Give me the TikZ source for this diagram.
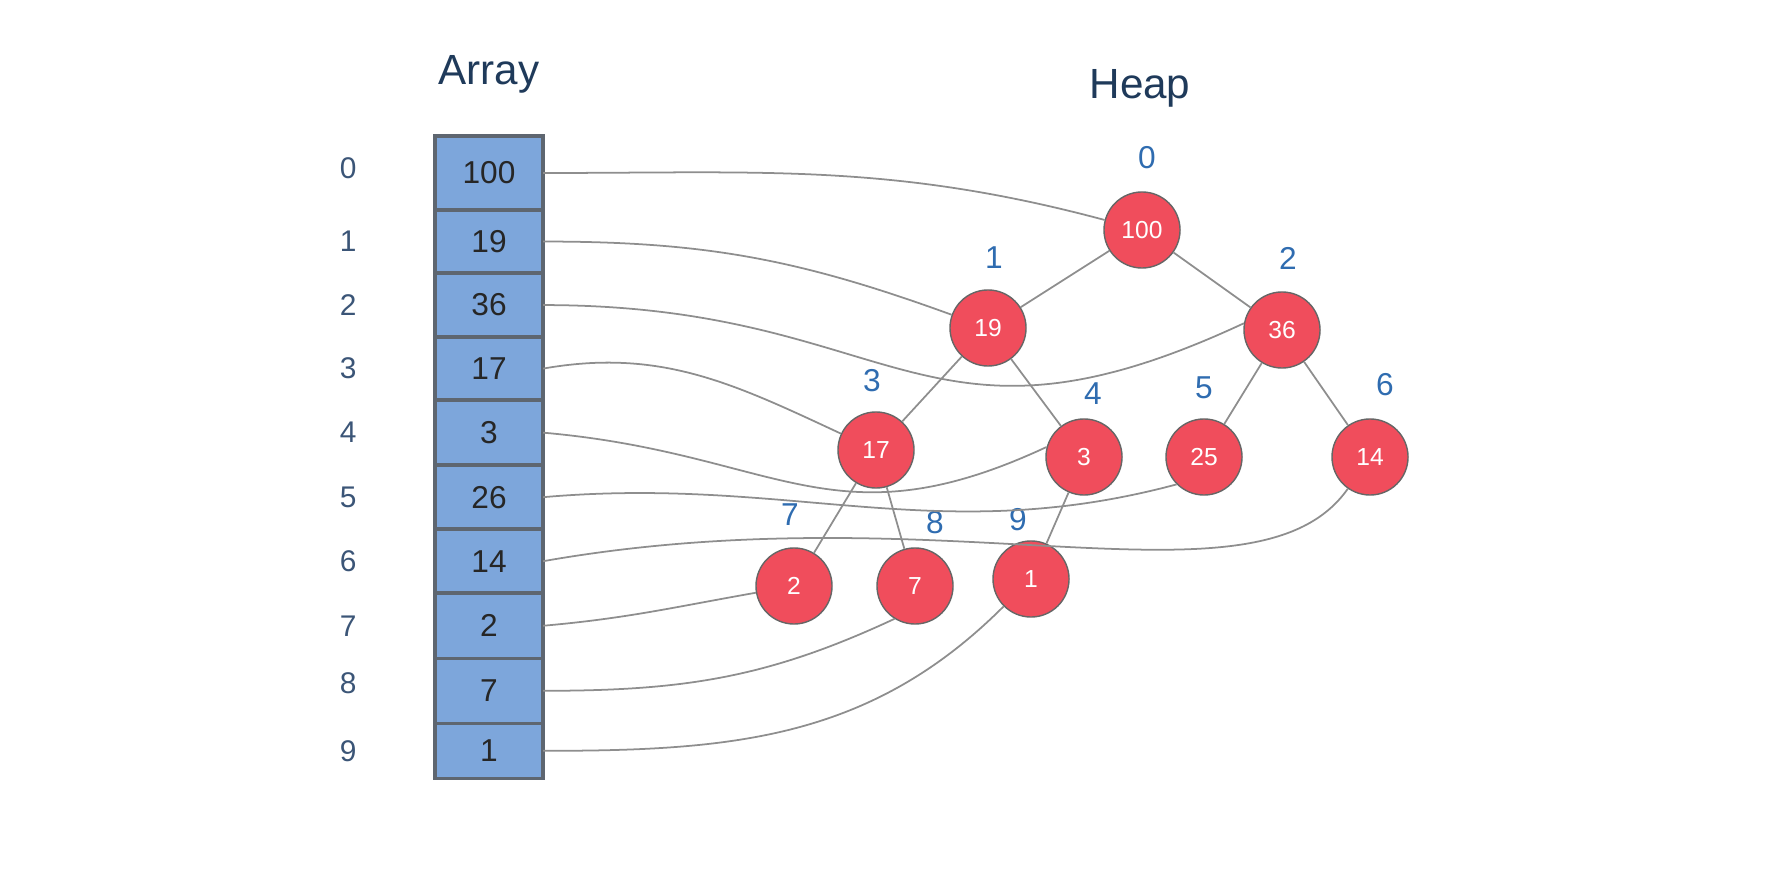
\documentclass[tikz,border=0pt]{standalone}
\usepackage{fontspec}
\setmainfont{Liberation Sans}
\usepackage{xcolor}
\usepackage{tikz}
\usetikzlibrary{positioning}
\definecolor{cellblue}{HTML}{7DA6DB}
\definecolor{cellgray}{HTML}{5E6670}
\definecolor{heapred}{HTML}{F04D5C}
\definecolor{idxblue}{HTML}{2F6CB0}
\definecolor{idxslate}{HTML}{3B5577}
\definecolor{titlenavy}{HTML}{1F3A5A}
\definecolor{wiregray}{HTML}{8E8E8E}

\begin{document}
\begin{tikzpicture}[
    x=0.01cm, y=-0.01cm,
    arraycell/.style={rectangle, draw=cellgray, fill=cellblue, line width=1pt, outer sep=0pt, minimum width=1.08cm, inner sep=0pt, font=\fontsize{9}{10}\selectfont, text=black!85},
    heapnode/.style={circle, draw=black!60, fill=heapred, thin, minimum size=0.76cm, inner sep=0pt, text=white, font=\fontsize{7}{8}\selectfont},
    idxlabel/.style={font=\fontsize{8.5}{10}\selectfont, text=idxslate},
    hidxlabel/.style={font=\fontsize{9}{10}\selectfont, text=idxblue},
    heading/.style={font=\fontsize{12}{14}\selectfont, text=titlenavy},
    treeline/.style={draw=wiregray, line width=0.5pt},
    wire/.style={draw=wiregray, line width=0.5pt}
]
\useasboundingbox (0,0) rectangle (1774,886);

% array column
\node[arraycell, minimum height=0.74cm] (c0) at (489,173) {100};
\node[arraycell, minimum height=0.63cm, below=0pt of c0] (c1) {19};
\node[arraycell, minimum height=0.64cm, below=0pt of c1] (c2) {36};
\node[arraycell, minimum height=0.63cm, below=0pt of c2] (c3) {17};
\node[arraycell, minimum height=0.65cm, below=0pt of c3] (c4) {3};
\node[arraycell, minimum height=0.64cm, below=0pt of c4] (c5) {26};
\node[arraycell, minimum height=0.64cm, below=0pt of c5] (c6) {14};
\node[arraycell, minimum height=0.65cm, below=0pt of c6] (c7) {2};
\node[arraycell, minimum height=0.65cm, below=0pt of c7] (c8) {7};
\node[arraycell, minimum height=0.55cm, below=0pt of c8] (c9) {1};

\node[heading, above=0.3cm of c0] (arraytitle) {Array};

\node[idxlabel, left=0.66cm of c0, yshift=0.05cm] (i0) {0};
\node[idxlabel, left=0.66cm of c1] (i1) {1};
\node[idxlabel, left=0.66cm of c2] (i2) {2};
\node[idxlabel, left=0.66cm of c3] (i3) {3};
\node[idxlabel, left=0.66cm of c4] (i4) {4};
\node[idxlabel, left=0.66cm of c5] (i5) {5};
\node[idxlabel, left=0.66cm of c6] (i6) {6};
\node[idxlabel, left=0.66cm of c7] (i7) {7};
\node[idxlabel, left=0.66cm of c8, yshift=0.08cm] (i8) {8};
\node[idxlabel, left=0.66cm of c9] (i9) {9};

% heap tree
\node[heading] (heaptitle) at (1140,88) {Heap};

\node[heapnode] (h0) at (1142,230) {100};
\node[heapnode] (h1) at (988,328) {19};
\node[heapnode] (h2) at (1282,330) {36};
\node[heapnode] (h3) at (876,450) {17};
\node[heapnode] (h4) at (1084,457) {3};
\node[heapnode] (h5) at (1204,457) {25};
\node[heapnode] (h6) at (1370,457) {14};
\node[heapnode] (h7) at (794,586) {2};
\node[heapnode] (h8) at (915,586) {7};
\node[heapnode] (h9) at (1031,579) {1};

\node[hidxlabel] (j0) at (1147,158) {0};
\node[hidxlabel] (j1) at (994,258) {1};
\node[hidxlabel] (j2) at (1288,258) {2};
\node[hidxlabel] (j3) at (872,381) {3};
\node[hidxlabel] (j4) at (1093,394) {4};
\node[hidxlabel] (j5) at (1204,388) {5};
\node[hidxlabel] (j6) at (1385,385) {6};
\node[hidxlabel] (j7) at (790,515) {7};
\node[hidxlabel] (j8) at (935,523) {8};
\node[hidxlabel] (j9) at (1018,520) {9};

\draw[treeline] (h0) -- (h1);
\draw[treeline] (h0) -- (h2);
\draw[treeline] (h1) -- (h3);
\draw[treeline] (h1) -- (h4);
\draw[treeline] (h2) -- (h5);
\draw[treeline] (h2) -- (h6);
\draw[treeline] (h3) -- (h7);
\draw[treeline] (h3) -- (h8);
\draw[treeline] (h4) -- (h9);

% array slot to heap node
\draw[wire] (c0.east) to[out=0, in=165] (h0);
\draw[wire] (c1.east) to[out=0, in=160] (h1);
\draw[wire] (c2.east) to[out=0, in=205, looseness=1.3] (h2.170);
\draw[wire] (c3.east) to[out=10, in=155] (h3);
\draw[wire] (c4.east) to[out=-5, in=205, looseness=1.2] (h4.165);
\draw[wire] (c5.east) to[out=5, in=195] (h5.225);
\draw[wire] (c6.east) to[out=10, in=235, out looseness=1.3, in looseness=0.5] (h6.235);
\draw[wire] (c7.east) to[out=5, in=190] (h7);
\draw[wire] (c8.east) to[out=0, in=205] (h8.238);
\draw[wire] (c9.east) to[out=0, in=225] (h9);

\end{tikzpicture}
\end{document}
